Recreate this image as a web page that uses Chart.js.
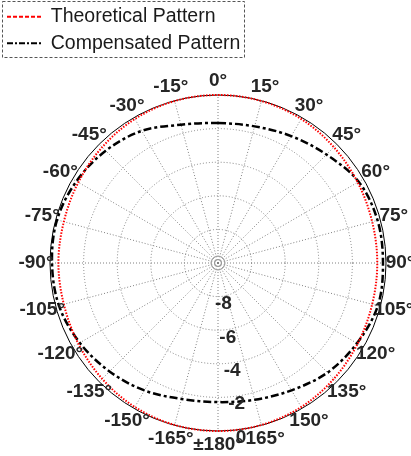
<!DOCTYPE html>
<html>
<head>
<meta charset="utf-8">
<script src="https://cdn.jsdelivr.net/npm/chart.js@4.4.0/dist/chart.umd.min.js"></script>
<style>
  html, body { margin: 0; padding: 0; background: #fff; }
</style>
</head>
<body>
<canvas id="chart" width="411" height="456"></canvas>
<script>
// angle labels, clockwise from the top (index 0 = 0°)
const angleLabels = [
  "0°", "15°", "30°", "45°", "60°", "75°", "90°", "105°", "120°", "135°", "150°", "165°",
  "±180°", "-165°", "-150°", "-135°", "-120°", "-105°", "-90°", "-75°", "-60°", "-45°", "-30°", "-15°"
];

// normalised pattern in dB, same order as angleLabels
const theoreticalDb = [
  0, -0.02, -0.1, -0.25, -0.4, -0.5, -0.52, -0.5, -0.4, -0.25, -0.1, -0.02,
  0, -0.02, -0.1, -0.25, -0.4, -0.5, -0.5, -0.5, -0.4, -0.25, -0.1, -0.02
];
const compensatedDb = [
  -1.67, -1.58, -1.28, -0.87, -0.33, -0.17, -0.18, -0.15, -0.45, -0.78, -1.25, -1.57,
  -1.72, -1.62, -1.24, -0.87, -0.5, -0.2, -0.12, -0.08, -0.27, -0.55, -0.92, -1.48
];

// radial axis (dB)
const radialTicks = [-10, -8, -6, -4, -2, 0];
const seriesNames = ["Theoretical Pattern", "Compensated Pattern"];
const legendDash = [[4, 2], [6, 2, 2, 2]];

// where the polar plot sits on the page
const PLOT = { cx: 218, cy: 263, radius: 168 };
const GRID_GREY = "#808080";
const LABEL_FONT = 'bold 19px "Liberation Sans", Arial, sans-serif';

Chart.defaults.font.family = '"Liberation Sans", Arial, sans-serif';
Chart.defaults.color = "#1a1a1a";

// angle labels, r tick labels, legend frame
const polarDecor = {
  id: "polarDecor",
  afterDraw(chart) {
    const s = chart.scales.r;
    const ctx = chart.ctx;
    ctx.save();

    // little rings at the pole
    ctx.strokeStyle = "#9a9a9a";
    ctx.lineWidth = 1;
    ctx.setLineDash([]);
    [3.5, 7].forEach(r => {
      ctx.beginPath();
      ctx.arc(s.xCenter, s.yCenter, r, 0, Math.PI * 2);
      ctx.stroke();
    });

    ctx.font = LABEL_FONT;
    ctx.fillStyle = "#262626";
    ctx.textAlign = "center";
    ctx.textBaseline = "middle";
    chart.data.labels.forEach((lab, i) => {
      const p = s.getPointPosition(i, s.drawingArea + 14);
      ctx.fillText(lab, p.x, p.y);
    });

    // r labels run along 172.5°
    const a = 172.5 * Math.PI / 180;
    s.ticks.forEach((t, i) => {
      if (i === 0) return;
      const d = s.getDistanceFromCenterForValue(t.value) + 8;
      ctx.fillText(t.label, s.xCenter + d * Math.sin(a), s.yCenter - d * Math.cos(a));
    });

    const boxes = chart.legend && chart.legend.legendHitBoxes;
    if (boxes && boxes.length) {
      let l = Infinity, t = Infinity, r = -Infinity, b = -Infinity;
      boxes.forEach(h => {
        l = Math.min(l, h.left);
        t = Math.min(t, h.top);
        r = Math.max(r, h.left + h.width);
        b = Math.max(b, h.top + h.height);
      });
      ctx.setLineDash([3, 2]);
      ctx.strokeStyle = "#555";
      ctx.lineWidth = 1;
      ctx.strokeRect(Math.round(l - 5) + 0.5, Math.round(t - 6) + 0.5,
        Math.round(r - l + 9), Math.round(b - t + 10));
    }
    ctx.restore();
  }
};

new Chart(document.getElementById("chart"), {
  type: "radar",
  data: {
    labels: angleLabels,
    datasets: [
      {
        label: seriesNames[0],
        data: theoreticalDb,
        borderColor: "#ff0000",
        backgroundColor: "rgba(0,0,0,0)",
        borderWidth: 2,
        borderDash: [1.5, 1.5],
        fill: false,
        pointRadius: 0,
        tension: 0.34,
      },
      {
        label: seriesNames[1],
        data: compensatedDb,
        borderColor: "#000000",
        backgroundColor: "rgba(0,0,0,0)",
        borderWidth: 2.5,
        borderDash: [8, 3, 3, 3],
        fill: false,
        pointRadius: 0,
        tension: 0.34,
      },
    ],
  },
  options: {
    responsive: false,
    animation: false,
    events: [],
    plugins: {
      tooltip: { enabled: false },
      legend: {
        position: "top",
        align: "start",
        labels: {
          usePointStyle: true,
          pointStyle: "line",
          pointStyleWidth: 34,
          padding: 7,
          color: "#1a1a1a",
          font: { size: 19.5 },
          generateLabels: function (chart) {
            const items = Chart.defaults.plugins.legend.labels.generateLabels(chart);
            items.forEach((it, i) => {
              it.lineDash = legendDash[i];
              it.lineWidth = 2;
              it.strokeStyle = chart.data.datasets[i].borderColor;
            });
            return items;
          }
        }
      },
    },
    scales: {
      r: {
        min: radialTicks[0],
        max: radialTicks[radialTicks.length - 1],
        ticks: { stepSize: 2, display: false },
        pointLabels: { display: false },
        grid: {
          circular: true,
          lineWidth: 1,
          color: c => (c.tick && c.tick.value === 0 ? "#000000" : GRID_GREY),
        },
        border: {
          dash: c => (c.tick && c.tick.value === 0 ? [] : [1, 2]),
        },
        angleLines: { color: GRID_GREY, lineWidth: 1, borderDash: [1, 2] },
        afterFit: function (scale) {
          scale.xCenter = PLOT.cx;
          scale.yCenter = PLOT.cy;
          scale.drawingArea = PLOT.radius;
        }
      },
    },
  },
  plugins: [polarDecor],
});
</script>
</body>
</html>
